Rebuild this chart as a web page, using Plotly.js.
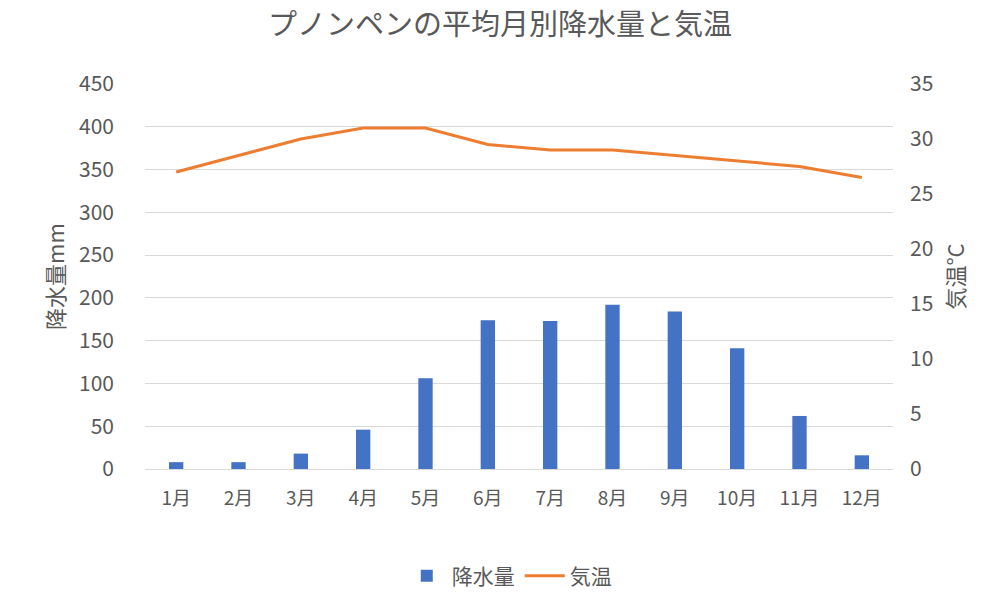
<!DOCTYPE html>
<html><head><meta charset="utf-8">
<script src="https://cdn.plot.ly/plotly-3.0.1.min.js"></script>
<style>body{margin:0}#c{width:1000px;height:600px}</style>
</head><body><div id="c"></div>
<script>
const months = ["1月","2月","3月","4月","5月","6月","7月","8月","9月","10月","11月","12月"];
const rainfall = [8, 8, 18, 46, 106, 174, 173, 192, 184, 141, 62, 16];
const temperature = [27, 28.5, 30, 31, 31, 29.5, 29, 29, 28.5, 28, 27.5, 26.5];
const leftTicks = [0,50,100,150,200,250,300,350,400,450];
const rightTicks = [0,5,10,15,20,25,30,35];

const F = '"Noto Sans CJK JP", "Noto Sans", sans-serif';
const grey = '#595959';
const traces = [
  {type:'bar', name:'降水量', x:months, y:rainfall, marker:{color:'#4472c4'}, yaxis:'y'},
  {type:'scatter', mode:'lines', name:'気温', x:months, y:temperature, line:{color:'#ed7d31', width:3}, yaxis:'y2'}
];
const layout = {
  width:1000, height:600,
  margin:{l:145, r:107, t:84, b:131, autoexpand:false},
  paper_bgcolor:'#fff', plot_bgcolor:'#fff',
  font:{family:F, color:grey, size:18},
  title:{text:'プノンペンの平均月別降水量と気温', x:0.5, xanchor:'center', y:0.958, yanchor:'middle', font:{size:29, color:grey, family:F}},
  bargap:0.77,
  showlegend:true,
  legend:{orientation:'h', x:0.487, xanchor:'center', y:-0.278, yanchor:'middle', font:{size:21, color:grey}, itemwidth:40},
  xaxis:{type:'category', showgrid:false, zeroline:false, showline:true, linecolor:'#d9d9d9', ticks:'', tickfont:{size:19, color:grey}, ticklabelstandoff:12, automargin:false},
  yaxis:{range:[0,450], tickvals:leftTicks, ticktext:leftTicks.map(String), showgrid:true, gridcolor:'#d9d9d9', zeroline:false, ticks:'', ticklabelstandoff:30, automargin:false,
         title:{text:'降水量mm', font:{size:22, color:grey}, standoff:8}, tickfont:{size:21, color:grey}},
  yaxis2:{range:[0,35], tickvals:rightTicks, ticktext:rightTicks.map(String), overlaying:'y', side:'right', showgrid:false, zeroline:false, ticks:'', ticklabelstandoff:16, automargin:false,
          title:{text:'気温°C', font:{size:22, color:grey}, standoff:16}, tickfont:{size:21, color:grey}}
};
Plotly.newPlot('c', traces, layout, {displayModeBar:false, staticPlot:true});
</script></body></html>
